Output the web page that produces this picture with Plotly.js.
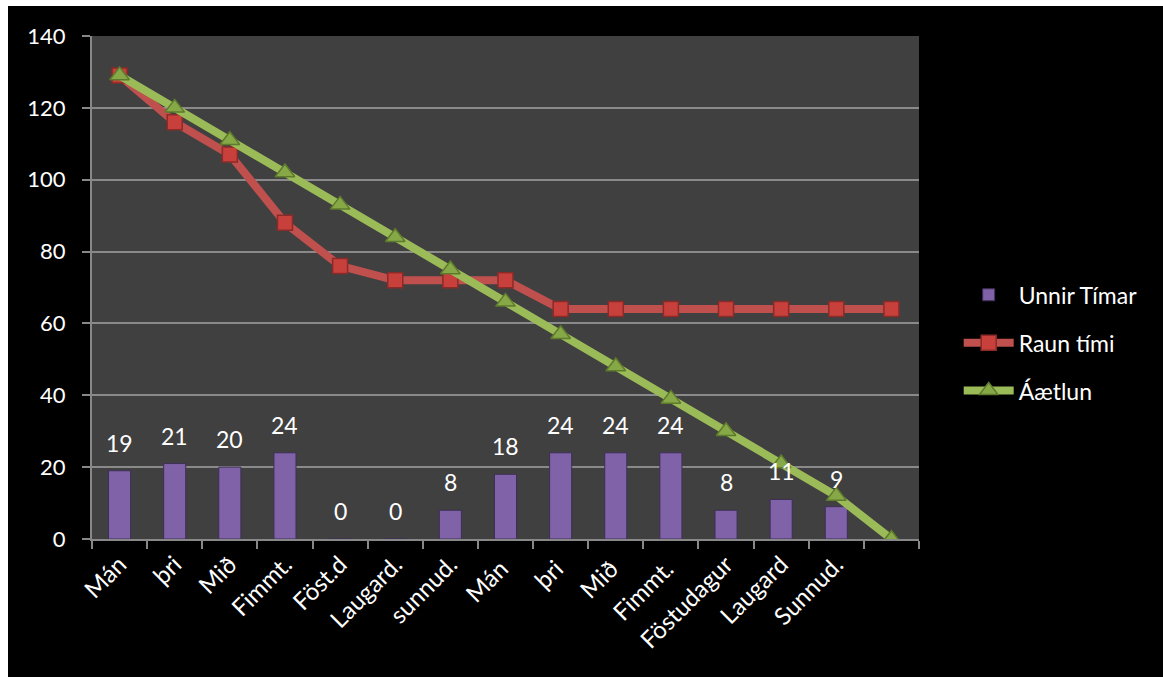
<!DOCTYPE html>
<html>
<head>
<meta charset="utf-8">
<script src="https://cdn.plot.ly/plotly-3.0.1.min.js"></script>
<style>
  html, body { margin: 0; padding: 0; background: #ffffff; width: 1163px; height: 677px; overflow: hidden; }
  #chart { position: absolute; left: 8px; top: 6px; width: 1155px; height: 671px; }
</style>
</head>
<body>
<div id="chart"></div>
<script>
const categories = ["Mán", "þri", "Mið", "Fimmt.", "Föst.d", "Laugard.", "sunnud.", "Mán ", "þri ", "Mið ", "Fimmt. ", "Föstudagur", "Laugard", "Sunnud.", " "];
const unnirTimar = [19, 21, 20, 24, 0, 0, 8, 18, 24, 24, 24, 8, 11, 9, null];
const raunTimi = [129, 116, 107, 88, 76, 72, 72, 72, 64, 64, 64, 64, 64, 64, 64];
const aaetlun = [129, 120, 111, 102, 93, 84, 75, 66, 57, 48, 39, 30, 21, 12, 0];

const font = "Lato, 'Open Sans', sans-serif";

const traces = [
  {
    type: "bar", name: "Unnir Tímar", x: categories, y: unnirTimar,
    width: 0.4, legendgroup: "a",
    marker: { color: "#8062A8", line: { color: "#3E2F57", width: 1 } },
    hoverinfo: "y"
  },
  {
    type: "scatter", mode: "lines+markers", name: "Raun tími", x: categories, y: raunTimi,
    legendgroup: "b",
    line: { color: "#C0504D", width: 8 },
    marker: { symbol: "square", size: 15, color: "#C8403C", line: { color: "#8B2B28", width: 1.5 } }
  },
  {
    type: "scatter", mode: "lines+markers", name: "Áætlun", x: categories, y: aaetlun,
    legendgroup: "c",
    line: { color: "#9BBB59", width: 8 },
    marker: { symbol: "triangle-up", size: 17, color: "#86A846", line: { color: "#5E7A2C", width: 1.5 } }
  }
];

const annotations = categories.map((c, i) => unnirTimar[i] === null ? null : ({
  x: c, y: unnirTimar[i], xref: "x", yref: "y",
  text: String(unnirTimar[i]), showarrow: false,
  yanchor: "middle", yshift: 28,
  font: { family: font, size: 23, color: "#ffffff" }
})).filter(a => a);

const layout = {
  width: 1155, height: 671,
  paper_bgcolor: "#000000", plot_bgcolor: "#404040",
  margin: { l: 84, r: 244, t: 30, b: 138 },
  font: { family: font, color: "#ffffff", size: 23 },
  showlegend: true,
  bargap: 0.6,
  xaxis: {
    type: "category", tickangle: -45, tickson: "boundaries",
    ticks: "outside", ticklen: 8, tickcolor: "#888888", tickwidth: 2,
    showline: true, linecolor: "#888888", linewidth: 2,
    showgrid: false, tickfont: { family: font, size: 24, color: "#ffffff" },
    range: [-0.5, 14.5]
  },
  yaxis: {
    range: [0, 140], dtick: 20, tick0: 0,
    ticks: "outside", ticklen: 8, tickcolor: "#888888", tickwidth: 2,
    showline: true, linecolor: "#888888", linewidth: 2,
    showgrid: true, gridcolor: "#8a8a8a", gridwidth: 2,
    zeroline: false, ticklabelstandoff: 12,
    tickfont: { family: font, size: 22, color: "#ffffff" }
  },
  legend: {
    x: 1.048, xanchor: "left", y: 0.39, yanchor: "middle",
    bgcolor: "rgba(0,0,0,0)", font: { family: font, size: 23, color: "#ffffff" },
    traceorder: "grouped", tracegroupgap: 15, itemwidth: 50
  },
  annotations: annotations
};

Plotly.newPlot("chart", traces, layout, { displayModeBar: false, staticPlot: true });
</script>
</body>
</html>
